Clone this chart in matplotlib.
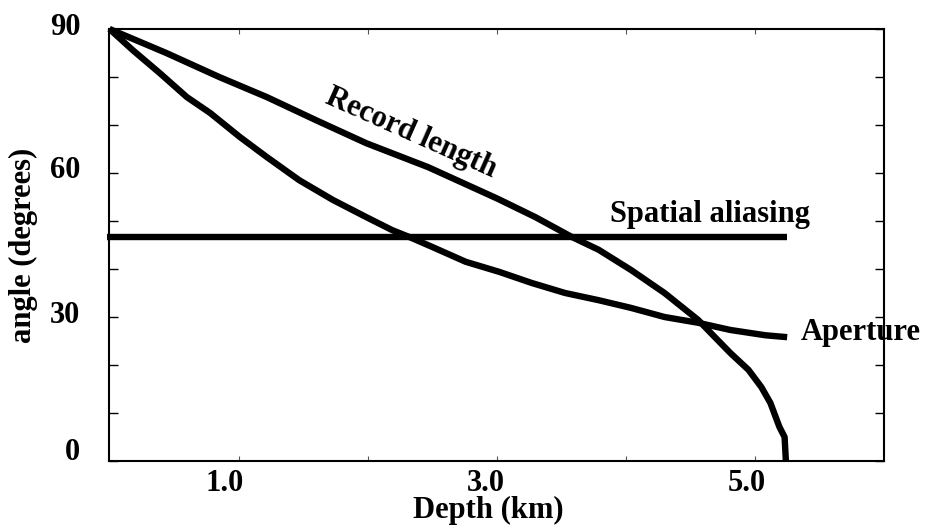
import matplotlib
matplotlib.use("Agg")
import matplotlib.pyplot as plt
from matplotlib.transforms import ScaledTranslation

plt.rcParams['font.family'] = ['Liberation Serif', 'DejaVu Serif']
plt.rcParams['font.weight'] = 'bold'
plt.rcParams['axes.labelweight'] = 'bold'
plt.rcParams['font.size'] = 22

# depth (km) / angle (deg)
record_depth = [0.0, 0.44, 0.85, 1.22, 1.60, 1.99, 2.47, 3.01, 3.30, 3.58, 3.79,
                4.04, 4.30, 4.56, 4.69, 4.81, 4.95, 5.05, 5.12, 5.19, 5.23, 5.24]
record_angle = [90.0, 85.0, 80.0, 75.8, 71.0, 66.2, 61.2, 54.6, 50.8, 46.7, 44.0,
                39.8, 35.0, 29.4, 25.8, 22.5, 19.0, 15.4, 12.1, 7.1, 5.0, 0.0]

aperture_depth = [0.0, 0.18, 0.39, 0.60, 0.78, 1.01, 1.22, 1.47, 1.73, 1.99, 2.19,
                  2.32, 2.50, 2.76, 3.02, 3.27, 3.53, 3.79, 4.04, 4.30, 4.56, 4.81,
                  5.08, 5.25]
aperture_angle = [90.0, 85.6, 80.8, 75.8, 72.5, 67.5, 63.3, 58.5, 54.4, 50.8, 48.1,
                  46.7, 44.6, 41.5, 39.4, 37.1, 35.0, 33.5, 31.9, 30.0, 28.8, 27.3,
                  26.2, 25.8]

aliasing_depth = [-0.02, 5.25]
aliasing_angle = [46.7, 46.7]

fig = plt.figure(figsize=(9.31, 5.29), dpi=100)
ax = fig.add_axes([0.1176, 0.1285, 0.8319, 0.8167])

lw = 4.6
for xs, ys in [(record_depth, record_angle),
               (aperture_depth, aperture_angle),
               (aliasing_depth, aliasing_angle)]:
    ax.plot(xs, ys, color='black', lw=lw, solid_capstyle='butt',
            solid_joinstyle='round', clip_on=False)

ax.text(2.336, 68.3, 'Record length', rotation=-24, rotation_mode='anchor',
        ha='center', va='center')
ax.text(3.88, 49.8, 'Spatial aliasing', ha='left', va='baseline')
ax.text(5.355, 25.2, 'Aperture', ha='left', va='baseline', clip_on=False)

ax.set_xlim(0, 6)
ax.set_ylim(0, 90)

ax.set_xticks([1, 3, 5])
ax.set_xticklabels(['1.0', '3.0', '5.0'])
ax.set_xticks([2, 4], minor=True)
ax.set_yticks([0, 30, 60, 90])
ax.set_yticklabels(['0', '30', '60', '90'])
ax.set_yticks([10, 20, 40, 50, 70, 80], minor=True)

ax.tick_params(axis='x', which='both', direction='in', top=True, bottom=True,
               length=3.6, width=0.8, color='#555555', pad=6)
ax.tick_params(axis='y', which='both', direction='in', left=True, right=True,
               length=6.5, width=1.0, pad=21)

for spine in ax.spines.values():
    spine.set_linewidth(1.5)

# nudge tick labels a little
for lab, dx in zip(ax.get_xticklabels(), [-14, -11, -8]):
    lab.set_transform(lab.get_transform() + ScaledTranslation(dx / 100, 0, fig.dpi_scale_trans))
for lab, dy in zip(ax.get_yticklabels(), [12, 5, 6, 5]):
    lab.set_transform(lab.get_transform() + ScaledTranslation(0, dy / 100, fig.dpi_scale_trans))

ax.set_xlabel('Depth (km)')
ax.xaxis.set_label_coords(0.489, -0.081)
ax.set_ylabel('angle (degrees)')
ax.yaxis.set_label_coords(-0.092, 0.498)

fig.savefig('out.png', dpi=100)
